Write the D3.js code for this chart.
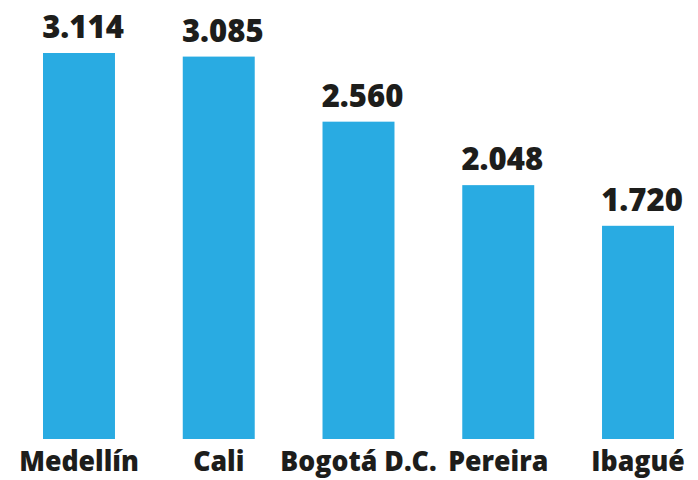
<!DOCTYPE html>
<html>
<head>
<meta charset="utf-8">
<script src="https://cdn.jsdelivr.net/npm/d3@7"></script>
<style>
  body { margin: 0; background: #ffffff; }
  .value-label, .cat-label {
    font-family: "Open Sans", Lato, sans-serif;
    font-weight: 800;
    fill: #1d1d1b;
  }
</style>
</head>
<body>
<svg class="bar-chart" width="698" height="480"></svg>
<script>
var cities = ['Medellín', 'Cali', 'Bogotá D.C.', 'Pereira', 'Ibagué'];
var values = [3114, 3085, 2560, 2048, 1720];
var valueLabels = ['3.114', '3.085', '2.560', '2.048', '1.720'];

var svg = d3.select('.bar-chart');
var margin = {top: 53, right: 24, bottom: 41, left: 43}
  , width = svg.attr('width') - margin.left - margin.right
  , height = svg.attr('height') - margin.top - margin.bottom;

var g = svg.append('g')
    .attr('transform', 'translate(' + margin.left + ',' + margin.top + ')');

// bands for the five cities
var xScale = d3.scaleBand()
    .domain(cities)
    .range([0, width])
    .paddingInner(0.485)
    .paddingOuter(0);

var yScale = d3.scaleLinear()
    .domain([0, d3.max(values)])
    .range([height, 0]);

var data = cities.map(function(c, i) {
  return {city: c, value: values[i], label: valueLabels[i]};
});

var mid = function(d) { return xScale(d.city) + xScale.bandwidth() / 2; };

g.selectAll('.bar')
    .data(data)
  .enter().append('rect')
    .attr('class', 'bar')
    .attr('x', function(d) { return xScale(d.city); })
    .attr('y', function(d) { return yScale(d.value); })
    .attr('width', xScale.bandwidth())
    .attr('height', function(d) { return height - yScale(d.value); })
    .style('fill', '#29abe2');

// numbers above the bars
g.selectAll('.value-label')
    .data(data)
  .enter().append('text')
    .attr('class', 'value-label')
    .attr('transform', function(d) {
      return 'translate(' + (mid(d) + 4) + ',' + (yScale(d.value) - 15) + ') scale(0.97,1)';
    })
    .attr('text-anchor', 'middle')
    .style('font-size', '32px')
    .text(function(d) { return d.label; });

// city names under the bars (squeezed a bit, the original face is narrower)
g.selectAll('.cat-label')
    .data(data)
  .enter().append('text')
    .attr('class', 'cat-label')
    .attr('transform', function(d) {
      return 'translate(' + mid(d) + ',' + (height + 32) + ') scale(0.92,1)';
    })
    .attr('text-anchor', 'middle')
    .style('font-size', '29px')
    .text(function(d) { return d.city; });
</script>
</body>
</html>
